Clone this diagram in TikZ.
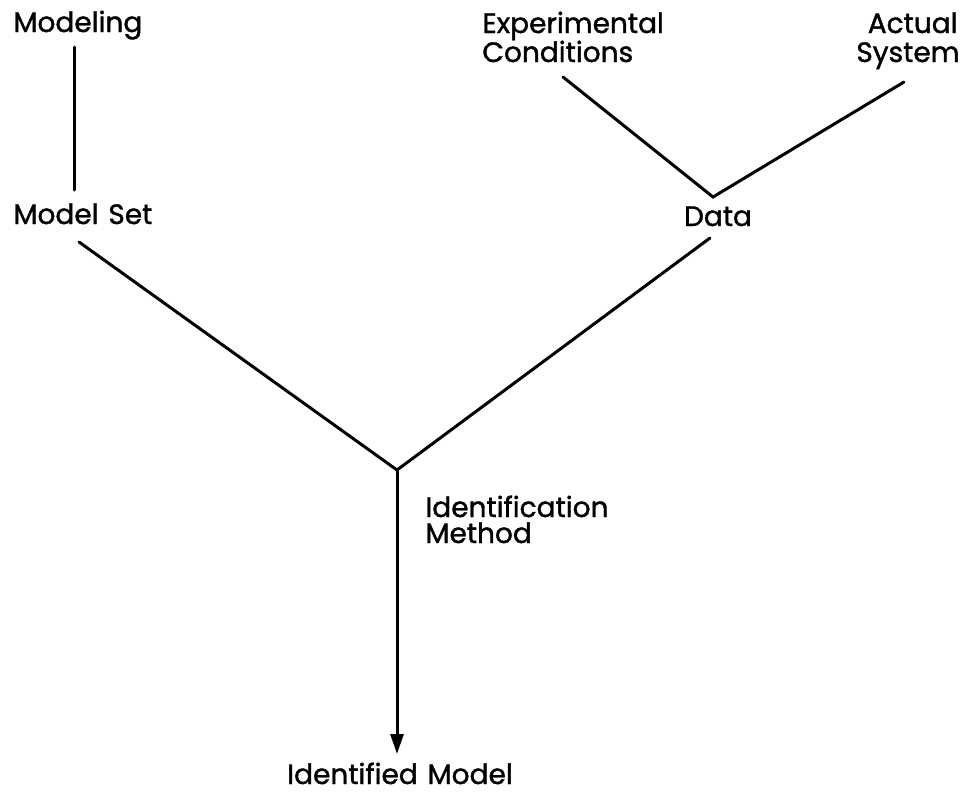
\documentclass[tikz,border=0pt]{standalone}
\usepackage{fontspec}
\setmainfont{Poppins}[BoldFont=Poppins, BoldFeatures={FakeBold=1.3}]
\usetikzlibrary{arrows.meta}
\begin{document}
\begin{tikzpicture}[x=0.5pt,y=-0.5pt,
  lbl/.style={font=\fontsize{14}{15}\selectfont\bfseries, inner sep=0pt},
  ln/.style={line width=1.5pt, line cap=round}]
\useasboundingbox (0,0) rectangle (968,793);
% labels (anchored at text baselines, positions in pixels)
\node[lbl, anchor=base west] (modeling) at (13,32) {Modeling};
\node[lbl, anchor=base west] (modelset) at (13,224) {Model\hspace{0.35em}Set};
\node[lbl, anchor=base west] (expA) at (482,33) {Experimental};
\node[lbl, anchor=base west] (expB) at (482,62) {Conditions};
\node[lbl, anchor=base east] (actA) at (958,33) {Actual};
\node[lbl, anchor=base east] (actB) at (960,62) {System};
\node[lbl, anchor=base] (data) at (718,226) {Data};
\node[lbl, anchor=base west] (idmA) at (425,517) {Identification};
\node[lbl, anchor=base west] (idmB) at (425,543) {Method};
\node[lbl, anchor=base] (idmodel) at (400,784) {Identified\hspace{0.35em}Model};
% connector points
\coordinate (mtop) at (74,47);
\coordinate (mbot) at (74,190);
\coordinate (msstart) at (79,242);
\coordinate (exend) at (563,77);
\coordinate (acend) at (904,82);
\coordinate (dj) at (713,197);
\coordinate (dstart) at (710,238);
\coordinate (ij) at (397,470);
\coordinate (tip) at (397,754);
% connectors
\draw[ln] (mtop) -- (mbot);
\draw[ln] (exend) -- (dj) -- (acend);
\draw[ln] (msstart) -- (ij) -- (dstart);
\draw[ln, -{Triangle[length=10pt,width=6.5pt]}] (ij) -- (tip);
\end{tikzpicture}
\end{document}
